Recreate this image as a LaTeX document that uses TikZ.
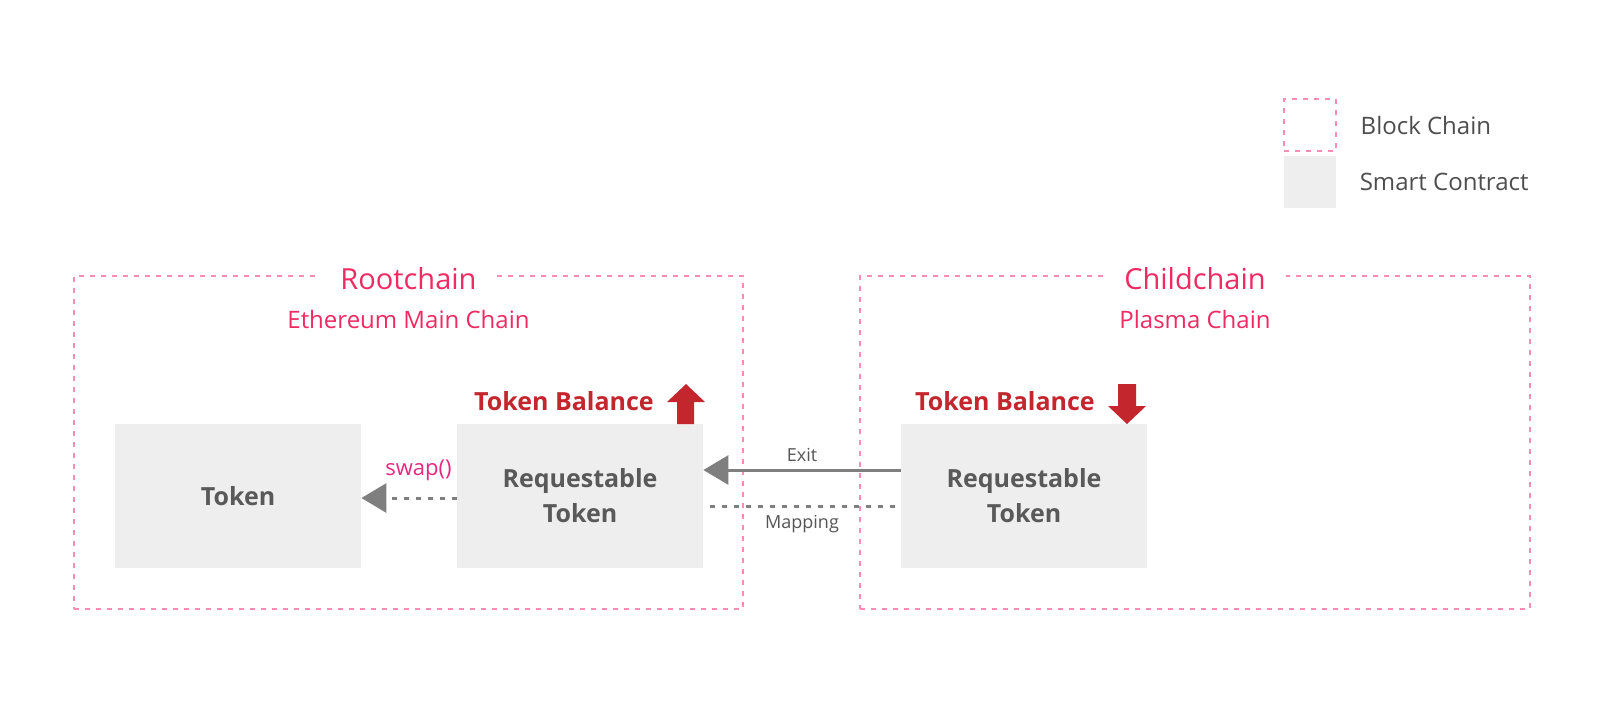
\documentclass[tikz,border=0pt]{standalone}
\usepackage{fontspec}
\setmainfont{Open Sans}
\usetikzlibrary{arrows.meta,positioning}
\definecolor{chainpink}{HTML}{FF8DB1}
\definecolor{titlepink}{HTML}{F02A63}
\definecolor{swappink}{HTML}{E6287E}
\definecolor{balred}{HTML}{C4262E}
\definecolor{scgray}{HTML}{EEEEEE}
\definecolor{sctext}{HTML}{595959}
\definecolor{flowgray}{HTML}{7F7F7F}
\definecolor{lbltext}{HTML}{555555}
\definecolor{legtext}{HTML}{4D4D4D}
\begin{document}
\begin{tikzpicture}[x=0.5pt, y=-0.5pt,
  chain/.style={draw=chainpink, line width=1.3pt, dash pattern=on 2.5pt off 3pt},
  sc/.style={fill=scgray, minimum width=123pt, minimum height=72pt, align=center,
    text=sctext, font=\fontsize{12.5}{17.5}\selectfont\bfseries},
  ttl/.style={fill=white, inner xsep=10pt, text=titlepink, font=\fontsize{14.5}{17}\selectfont},
  sub/.style={text=titlepink, font=\fontsize{12}{14}\selectfont},
  bal/.style={text=balred, font=\fontsize{12.5}{15}\selectfont\bfseries},
  leg/.style={inner sep=0pt, text=legtext, font=\fontsize{12}{15}\selectfont},
  lbl/.style={text=lbltext, font=\fontsize{9}{11}\selectfont},
  flow/.style={draw=flowgray, line width=1.5pt, -{Triangle[length=12.5pt,width=14.5pt]}}]
  \useasboundingbox (0,0) rectangle (1603,708);
  % legend
  \node[chain, minimum size=26pt] (lbc) at (1310,125) {};
  \node[fill=scgray, minimum size=26pt] (lsc) at (1310,182) {};
  \node[leg, right=11.5pt of lbc] {Block Chain};
  \node[leg, right=11.5pt of lsc] {Smart Contract};
  % chains
  \node[chain, minimum width=334.5pt, minimum height=166.5pt] (root) at (408.5,442.5) {};
  \node[ttl] (roott) at (408.5,279) {Rootchain};
  \node[sub] (roots) at (408.5,319) {Ethereum Main Chain};
  \node[chain, minimum width=335pt, minimum height=166.5pt] (child) at (1195,442.5) {};
  \node[ttl] (childt) at (1195,279) {Childchain};
  \node[sub] (childs) at (1195,319) {Plasma Chain};
  % contracts
  \node[sc] (tok) at (238,496) {Token};
  \node[sc] (rr) at (580,496) {Requestable\\Token};
  \node[sc] (rc) at (1024,496) {Requestable\\Token};
  \node[bal] (rbal) at (564,401) {Token Balance};
  \node[bal] (cbal) at (1005,401) {Token Balance};
  \fill[balred] (677,424) -- (677,402) -- (667,402) -- (686,384) -- (705,402) -- (694,402) -- (694,424) -- cycle;
  \fill[balred] (1118,384) -- (1118,406) -- (1108,406) -- (1127,424) -- (1146,406) -- (1136,406) -- (1136,384) -- cycle;
  % connectors
  \draw[flow] ([yshift=13pt]rc.west) -- node[lbl, yshift=7.5pt] {Exit} ([yshift=13pt]rr.east);
  \draw[draw=flowgray, line width=1.5pt, dash pattern=on 2.5pt off 3.5pt, shorten <=3.5pt]
    ([yshift=-5pt]rr.east) -- node[lbl, yshift=-9pt] {Mapping} ([yshift=-5pt]rc.west);
  \draw[flow, dash pattern=on 2.5pt off 3.5pt] ([yshift=-1pt]rr.west) --
    node[pos=0.4, yshift=14pt, text=swappink, font=\fontsize{11}{13}\selectfont] {swap()} ([yshift=-1pt]tok.east);
\end{tikzpicture}
\end{document}
